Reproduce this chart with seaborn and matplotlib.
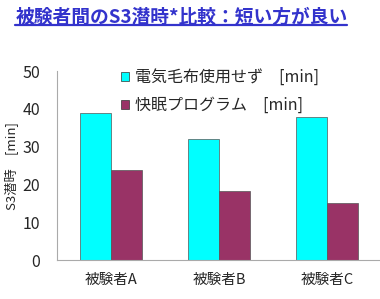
import matplotlib
matplotlib.use("Agg")
import matplotlib.pyplot as plt
import seaborn as sns
import pandas as pd
from matplotlib.lines import Line2D

subjects = ["被験者A", "被験者B", "被験者C"]
series = ["電気毛布使用せず　[min]", "快眠プログラム　[min]"]
no_blanket = [38.8, 31.9, 37.8]
sleep_prog = [23.9, 18.3, 15.2]
colors = ["#00FFFF", "#993366"]

df = pd.DataFrame({
    "subject": subjects * 2,
    "series": [series[0]] * 3 + [series[1]] * 3,
    "value": no_blanket + sleep_prog,
})

sns.set_style("white")
plt.rcParams['font.family'] = ['Noto Sans CJK JP', 'DejaVu Sans']

fig = plt.figure(figsize=(3.8, 2.99), dpi=100)
ax = fig.add_axes([0.15, 0.130, 0.853, 0.6325])

sns.barplot(data=df, x="subject", y="value", hue="series", palette=colors, saturation=1,
            width=0.58, gap=0, edgecolor="#555555", linewidth=0.5, ax=ax)

ax.set_ylim(0, 50)
ax.set_xlim(-0.5, 2.5)
ax.set_yticks([0, 10, 20, 30, 40, 50])
ax.tick_params(axis='y', labelsize=11.5, length=0, pad=12)
ax.tick_params(axis='x', labelsize=10.5, length=0, pad=9)
ax.set_xticks([0.5, 1.5], minor=True)
ax.tick_params(axis='x', which='minor', direction='in', length=4, color="#aaaaaa")
ax.set_xlabel("")
ax.set_ylabel("S3潜時　[min]", fontsize=9.5, labelpad=3)
for s in ["top", "right"]:
    ax.spines[s].set_visible(False)
for s in ["left", "bottom"]:
    ax.spines[s].set_color("#aaaaaa")
    ax.spines[s].set_linewidth(0.8)

leg = ax.legend(loc="upper left", bbox_to_anchor=(0.28, 0.818), bbox_transform=fig.transFigure,
                frameon=False, fontsize=11.5, handlelength=0.5, handleheight=0.5,
                handletextpad=0.4, labelspacing=0.7)
for h in leg.legend_handles:
    h.set_edgecolor("#333333")

title = fig.text(0.04, 0.975, "被験者間のS3潜時*比較：短い方が良い", fontsize=13.5,
                 fontweight='bold', color="#3333CC", ha='left', va='top')
fig.canvas.draw()
bb = title.get_window_extent().transformed(fig.transFigure.inverted())
fig.add_artist(Line2D([bb.x0, bb.x1], [bb.y0 + 0.004, bb.y0 + 0.004], color="#3333CC",
                      linewidth=1.6, transform=fig.transFigure))

fig.savefig("out.png", dpi=100)
